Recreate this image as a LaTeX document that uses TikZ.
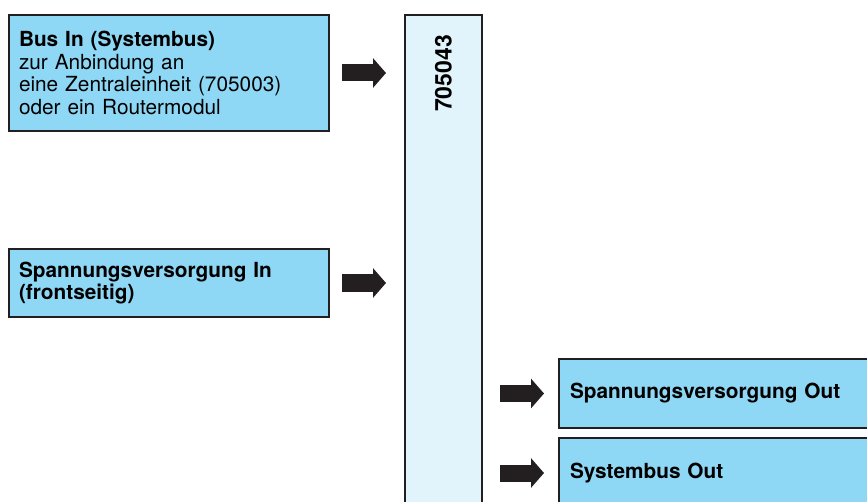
\documentclass[tikz,border=0pt]{standalone}
\usepackage{fontspec}
\setmainfont{TeX Gyre Heros}
\usetikzlibrary{arrows.meta}
\definecolor{boxblue}{HTML}{8ED8F6}
\definecolor{devblue}{HTML}{E1F3FB}
\definecolor{darkline}{HTML}{231F20}
\tikzset{
  infobox/.style={rectangle, draw=darkline, fill=boxblue, line width=1pt, align=left,
    font=\fontsize{10.4}{11.4}\selectfont},
  devbox/.style={rectangle, draw=darkline, fill=devblue, line width=1pt},
  bigarrow/.style={darkline, line width=8.5pt, -{Triangle[length=6.5pt, width=14.5pt]}}
}

\begin{document}
\begin{tikzpicture}[x=0.5pt, y=-0.5pt]
\useasboundingbox (0,0) rectangle (867,502);
\clip (0,0) rectangle (867,502);

\node[infobox, minimum width=160pt, minimum height=58pt, text width=150pt, inner xsep=5pt] (busin) at (169,73)
  {\textbf{Bus In (Systembus)}\\zur Anbindung an\\eine Zentraleinheit (705003)\\oder ein Routermodul};
\node[infobox, minimum width=160pt, minimum height=34pt, text width=150pt, inner xsep=5pt] (powerin) at (169,283)
  {\textbf{Spannungsversorgung In}\\\textbf{(frontseitig)}};
\node[devbox, minimum width=38.5pt, minimum height=262.5pt] (dev) at (443.5,277.5) {};
\node[rotate=90, anchor=east, font=\fontsize{11.5}{12}\selectfont\bfseries] (devlabel) at ([yshift=-7pt]dev.north) {705043};
\node[infobox, minimum width=180.5pt, minimum height=34.5pt, text width=169.5pt, inner xsep=5.5pt] (powerout) at (739.5,393.5)
  {\textbf{Spannungsversorgung Out}};
\node[infobox, minimum width=180.5pt, minimum height=35pt, text width=169.5pt, inner xsep=5.5pt] (busout) at (739.5,473)
  {\textbf{Systembus Out}};

\draw[bigarrow, shorten <=6pt, shorten >=9pt] (busin.east) -- (busin.east -| dev.west);
\draw[bigarrow, shorten <=6pt, shorten >=9pt] (powerin.east) -- (powerin.east -| dev.west);
\draw[bigarrow, shorten <=8.5pt, shorten >=7pt] (powerout.west -| dev.east) -- (powerout.west);
\draw[bigarrow, shorten <=8.5pt, shorten >=7pt] (busout.west -| dev.east) -- (busout.west);
\end{tikzpicture}
\end{document}
